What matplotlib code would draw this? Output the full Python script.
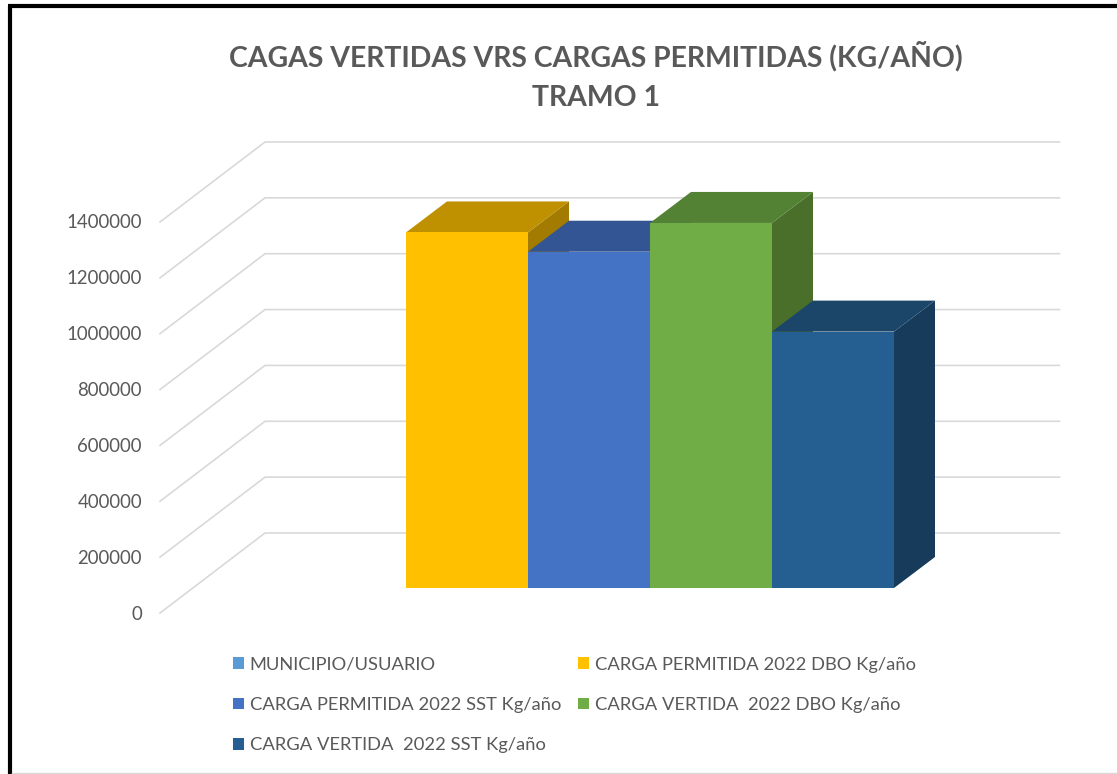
import matplotlib
matplotlib.use("Agg")
import matplotlib.pyplot as plt
from matplotlib.patches import Patch, Polygon

plt.rcParams['font.family'] = ['Lato', 'DejaVu Sans']

# datos
series = ['MUNICIPIO/USUARIO', 'CARGA PERMITIDA 2022 DBO Kg/año', 'CARGA PERMITIDA 2022 SST Kg/año',
          'CARGA VERTIDA  2022 DBO Kg/año', 'CARGA VERTIDA  2022 SST Kg/año']
bar_series = series[1:]
bar_values = [1273000, 1204000, 1307000, 918000]
y_ticks = [0, 200000, 400000, 600000, 800000, 1000000, 1200000, 1400000]

front_colors = ['#FFC000', '#4472C4', '#70AD47', '#255E91']
top_colors = ['#BF9000', '#335593', '#548235', '#1C4669']
side_colors = ['#A37B00', '#2B4A80', '#4A6F2B', '#173B5B']
legend_colors = ['#5B9BD5'] + front_colors
text_color = '#595959'
grid_color = '#D9D9D9'

W, H = 1117, 774
BAR_PX = 122.0       # ancho de barra
UNIT_PX = 55.86 / 200000  # pixeles por unidad de valor
X0_PX, Y0_PX = 406.0, 588.0  # origen de la primera barra


def xv(px):
    return (px - X0_PX) / BAR_PX


def yv(px):
    return (Y0_PX - px) / UNIT_PX


fig = plt.figure(figsize=(W / 100, H / 100), dpi=100, facecolor='white')
ax = fig.add_axes([0, 0, 1, 1])
ax.set_xlim(xv(0), xv(W))
ax.set_ylim(yv(H), yv(0))
ax.axis('off')

# rejilla: pared del fondo y diagonal del piso
back_shift = yv(533)
front_shift = yv(613)
for v in y_ticks:
    ax.plot([xv(160), xv(265), xv(1059.5)], [v + front_shift, v + back_shift, v + back_shift],
            color=grid_color, lw=1.2, solid_joinstyle='miter', zorder=1)
    ax.text(xv(142), v + yv(614), str(v), ha='right', va='center', fontsize=13.4, color=text_color)

# barras en falso 3D, de izquierda a derecha
dx = 41 / BAR_PX
dy = 31 / UNIT_PX
for i, v in enumerate(bar_values):
    z = 2 + i
    ax.add_patch(Polygon([(i + 1, 0), (i + 1 + dx, dy), (i + 1 + dx, v + dy), (i + 1, v)],
                         facecolor=side_colors[i], edgecolor='none', zorder=z))
    ax.add_patch(Polygon([(i, v), (i + dx, v + dy), (i + 1 + dx, v + dy), (i + 1, v)],
                         facecolor=top_colors[i], edgecolor='none', zorder=z))
    ax.bar(i, v, width=1, align='edge', color=front_colors[i], zorder=z)

ax.text(xv(595.5), yv(56.5), 'CAGAS VERTIDAS VRS CARGAS PERMITIDAS (KG/AÑO)', ha='center', va='center',
        fontsize=20.4, fontweight='bold', color=text_color)
ax.text(xv(595.5), yv(97.5), 'TRAMO 1', ha='center', va='center',
        fontsize=20.4, fontweight='bold', color=text_color)

# leyenda: la primera columna lleva tres entradas
order = [0, 2, 4, 1, 3]
handles = [Patch(facecolor=legend_colors[k], edgecolor='none', label=series[k]) for k in order]
leg = ax.legend(handles=handles, ncols=2, loc='upper left', bbox_to_anchor=(229 / W, 1 - 653 / H),
                frameon=False, fontsize=13.2, labelcolor=text_color, handlelength=0.6, handleheight=0.6,
                handletextpad=0.33, columnspacing=0.93, labelspacing=1.33, borderpad=0.2, borderaxespad=0)

# marco de la captura
ax.plot([xv(10), xv(10)], [yv(H), yv(6)], color='black', lw=3, solid_capstyle='butt', zorder=20)
ax.plot([xv(8), xv(W)], [yv(6), yv(6)], color='black', lw=3, solid_capstyle='butt', zorder=20)
ax.plot([xv(12), xv(W)], [yv(772.5), yv(772.5)], color='#D9D9D9', lw=1, zorder=20)

fig.savefig('out.png', dpi=100)
